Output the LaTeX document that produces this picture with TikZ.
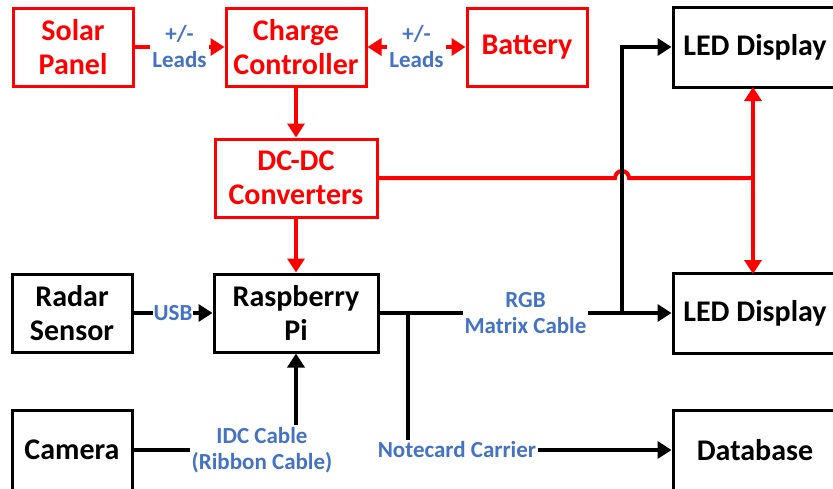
\documentclass[tikz,border=0pt]{standalone}
\usepackage{fontspec}
\setmainfont{Carlito}
\usepackage{tikz}
\usetikzlibrary{arrows.meta,calc,positioning}

\definecolor{lblue}{RGB}{68,114,196}

\tikzset{
  box/.style={draw=black,line width=3pt,fill=white,align=center,
    minimum width=120pt,minimum height=78pt,inner sep=0pt,
    font=\fontsize{30}{34}\selectfont\bfseries},
  redbox/.style={box,draw=red,text=red,line width=3pt},
  lbl/.style={fill=white,text=lblue,align=center,inner sep=2pt,
    font=\fontsize{23}{26}\selectfont\bfseries},
  wire/.style={line width=4pt,black},
  redwire/.style={line width=4pt,red},
  tip/.style={-{Triangle[length=14pt,width=17pt]}},
}

\begin{document}
\begin{tikzpicture}[x=1pt,y=-1pt]
    \useasboundingbox (0,0) rectangle (833,488);
    % Stroemforsyning (roed)
    \node[redbox] (solar) at (73,47) {Solar\\Panel};
    \node[redbox,minimum width=140pt] (charge) at (296,47) {Charge\\Controller};
    \node[redbox] (battery) at (527,47) {Battery};
    \node[redbox,minimum width=162pt] (dcdc) at (296,178) {DC-DC\\Converters};
    % Oevrige blokke
    \node[box] (radar) at (72,313) {Radar\\Sensor};
    \node[box,minimum width=164pt] (rpi) at (296,313) {Raspberry\\Pi};
    \node[box,minimum height=80pt] (camera) at (72,450) {Camera};
    \node[box,minimum width=164pt,minimum height=80pt] (ledtop) at (755,47) {LED Display};
    \node[box,minimum width=164pt,minimum height=80pt] (ledbot) at (755,313) {LED Display};
    \node[box,minimum width=164pt,minimum height=80pt] (db) at (755,450) {Database};
    % Roede forbindelser
    \draw[redwire,tip] (solar) -- node[lbl] {+/-\\Leads} (charge);
    \draw[redwire,{Triangle[length=14pt,width=17pt]}-{Triangle[length=14pt,width=17pt]}] (charge) -- node[lbl] {+/-\\Leads} (battery);
    \draw[redwire,tip] (charge) -- (dcdc);
    \draw[redwire,tip] (dcdc) -- (rpi);
    \coordinate (split) at (753,178);
    \draw[redwire] (dcdc.east) -- (615,178) arc (180:360:7) -- (split);
    \draw[redwire,{Triangle[length=14pt,width=17pt]}-{Triangle[length=14pt,width=17pt]}] (753,87) -- (753,274);
    % Sorte forbindelser
    \draw[wire,tip] (radar) -- node[lbl,inner sep=1pt] {USB} (rpi);
    \coordinate (rgbup) at (622,313);
    \draw[wire,tip] (rpi.east) -- node[lbl,pos=0.5] {RGB\\Matrix Cable} (ledbot.west);
    \draw[wire,tip] (rgbup) -- (622,47) -- (ledtop.west);
    \coordinate (notecard) at (408,313);
    \draw[wire,tip] (notecard) -- (408,450) -- (db.west);
    \node[lbl] at (457,450) {Notecard Carrier};
    \draw[wire,tip] (camera.east) -- (296,450) -- (rpi.south);
    \node[lbl] at (262,450) {IDC Cable\\(Ribbon Cable)};
\end{tikzpicture}
\end{document}
